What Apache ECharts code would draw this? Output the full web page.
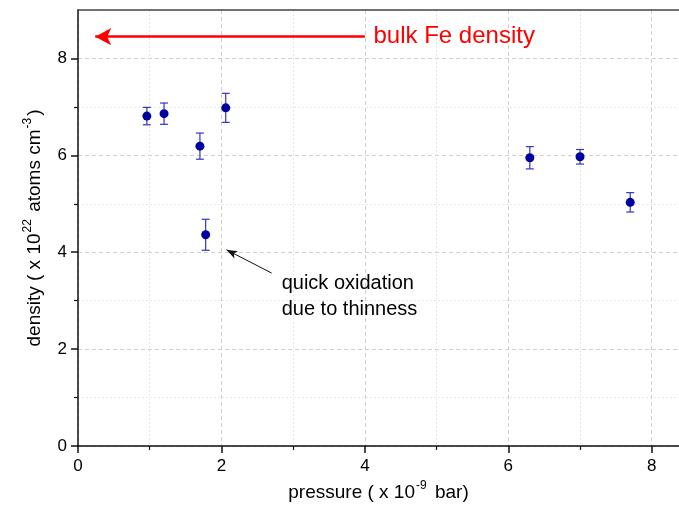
<!DOCTYPE html>
<html>
<head>
<meta charset="utf-8">
<script src="https://cdn.jsdelivr.net/npm/echarts@6/dist/echarts.min.js"></script>
<style>
  html, body { margin: 0; padding: 0; background: #fff; }
  #chart { width: 679px; height: 507px; }
</style>
</head>
<body>
<div id="chart"></div>
<script>
// Measured film densities versus deposition pressure
const pressure = [0.96, 1.20, 1.70, 1.78, 2.06, 6.30, 7.00, 7.70];   // x 10^-9 bar
const density  = [6.81, 6.86, 6.19, 4.36, 6.98, 5.95, 5.97, 5.03];   // x 10^22 atoms cm^-3
const densityErr = [0.18, 0.22, 0.27, 0.32, 0.30, 0.23, 0.15, 0.20];

// Axis ticks
const xTicks = [0, 2, 4, 6, 8];
const yTicks = [0, 2, 4, 6, 8];

// Reference level for bulk iron and the annotation arrows (data units)
const bulkFeDensity = 8.45;
const bulkArrowFrom = [4.0, bulkFeDensity];
const bulkArrowTo = [0.24, bulkFeDensity];
const bulkLabelAt = [4.12, bulkFeDensity];
const bulkLabel = 'bulk Fe density';

const noteArrowFrom = [2.70, 3.57];
const noteArrowTo = [2.07, 4.05];
const noteLabelAt = [2.84, 3.09];
const noteLabel = 'quick oxidation\ndue to thinness';

const FONT = '"Liberation Sans", Arial, sans-serif';

const points = pressure.map((p, i) => [p, density[i], densityErr[i]]);

const chart = echarts.init(document.getElementById('chart'));

const option = {
  animation: false,
  backgroundColor: '#fff',
  textStyle: { fontFamily: FONT },
  grid: { left: 78, right: 0, top: 10, bottom: 61, containLabel: false },
  xAxis: [{
    type: 'value',
    min: 0, max: 8.38, interval: 2,
    name: '{n|pressure ( x 10}{s|-9}{n| bar)}',
    nameLocation: 'middle',
    nameGap: 34,
    nameTextStyle: {
      rich: {
        n: { fontSize: 19, fontFamily: FONT, color: '#000', lineHeight: 22, verticalAlign: 'bottom' },
        s: { fontSize: 12, fontFamily: FONT, color: '#000', lineHeight: 22, verticalAlign: 'top', padding: [0, 3, 0, 1] }
      }
    },
    axisLine: { show: true, onZero: false, lineStyle: { color: '#111', width: 1.5 } },
    axisTick: { show: true, inside: false, length: 7, lineStyle: { color: '#111', width: 1.5 },
      customValues: xTicks },
    minorTick: { show: true, splitNumber: 2, length: 4, lineStyle: { color: '#111', width: 1.2 } },
    axisLabel: { show: true, fontSize: 17, color: '#000', margin: 12, fontFamily: FONT,
      customValues: xTicks },
    splitLine: { show: true, lineStyle: { color: '#cfcfcf', type: [4, 3], width: 1 } },
    minorSplitLine: { show: true, lineStyle: { color: '#e6e6e6', type: [2, 2], width: 1 } }
  }, {
    type: 'value',
    position: 'top',
    min: 0, max: 8.38,
    axisLine: { show: true, onZero: false, lineStyle: { color: '#444', width: 1.5 } },
    axisTick: { show: false }, axisLabel: { show: false },
    splitLine: { show: false }
  }],
  yAxis: {
    type: 'value',
    min: 0, max: 9, interval: 2,
    name: '{n|density ( x 10}{s|22}{n| atoms cm}{s|-3}{n|)}',
    nameLocation: 'middle',
    nameRotate: 90,
    nameGap: 34,
    nameTextStyle: {
      rich: {
        n: { fontSize: 19, fontFamily: FONT, color: '#000', lineHeight: 22, verticalAlign: 'bottom' },
        s: { fontSize: 12, fontFamily: FONT, color: '#000', lineHeight: 22, verticalAlign: 'top', padding: [0, 2, 0, 1] }
      }
    },
    axisLine: { show: true, onZero: false, lineStyle: { color: '#111', width: 1.5 } },
    axisTick: { show: true, inside: false, length: 7, lineStyle: { color: '#111', width: 1.5 },
      customValues: yTicks },
    minorTick: { show: true, splitNumber: 2, length: 4, lineStyle: { color: '#111', width: 1.2 } },
    axisLabel: { show: true, fontSize: 17, color: '#000', margin: 11, fontFamily: FONT,
      customValues: yTicks },
    splitLine: { show: true, lineStyle: { color: '#cfcfcf', type: [4, 3], width: 1 } },
    minorSplitLine: { show: true, lineStyle: { color: '#e6e6e6', type: [2, 2], width: 1 } }
  },
  series: [
    {
      // vertical error bars with caps
      type: 'custom',
      xAxisIndex: 0,
      data: points,
      z: 3,
      renderItem: function (params, api) {
        const x = api.value(0), y = api.value(1), e = api.value(2);
        const top = api.coord([x, y + e]);
        const bot = api.coord([x, y - e]);
        const half = 4;
        const style = { stroke: '#3535c0', lineWidth: 1.2, fill: null };
        return {
          type: 'group',
          children: [
            { type: 'line', shape: { x1: top[0], y1: top[1], x2: bot[0], y2: bot[1] }, style: style },
            { type: 'line', shape: { x1: top[0] - half, y1: top[1], x2: top[0] + half, y2: top[1] }, style: style },
            { type: 'line', shape: { x1: bot[0] - half, y1: bot[1], x2: bot[0] + half, y2: bot[1] }, style: style }
          ]
        };
      }
    },
    {
      type: 'scatter',
      xAxisIndex: 0,
      data: points.map(p => [p[0], p[1]]),
      symbol: 'circle',
      symbolSize: 9,
      itemStyle: { color: '#0000a0', opacity: 1 },
      z: 4,
      markLine: {
        silent: true,
        animation: false,
        label: { show: false },
        emphasis: { disabled: true },
        data: [
          [
            { coord: bulkArrowFrom, symbol: 'none', lineStyle: { color: '#ff0000', width: 2.5, type: 'solid' } },
            { coord: bulkArrowTo, symbol: 'arrow', symbolSize: [13, 16] }
          ],
          [
            { coord: noteArrowFrom, symbol: 'none', lineStyle: { color: '#111', width: 1, type: 'solid' } },
            { coord: noteArrowTo, symbol: 'arrow', symbolSize: [6, 11] }
          ]
        ]
      }
    }
  ]
};

chart.setOption(option);

// Annotation texts anchored at data positions
const bulkPx = chart.convertToPixel({ xAxisIndex: 0, yAxisIndex: 0 }, bulkLabelAt);
const notePx = chart.convertToPixel({ xAxisIndex: 0, yAxisIndex: 0 }, noteLabelAt);
chart.setOption({
  graphic: [
    {
      type: 'text', x: bulkPx[0], y: bulkPx[1], z: 10,
      style: { text: bulkLabel, fill: '#ff0000', fontSize: 24, fontFamily: FONT,
        textAlign: 'left', textVerticalAlign: 'middle' }
    },
    {
      type: 'text', x: notePx[0], y: notePx[1], z: 10,
      style: { text: noteLabel, fill: '#000', fontSize: 20, fontFamily: FONT, lineHeight: 26,
        textAlign: 'left', textVerticalAlign: 'middle' }
    }
  ]
});
</script>
</body>
</html>
